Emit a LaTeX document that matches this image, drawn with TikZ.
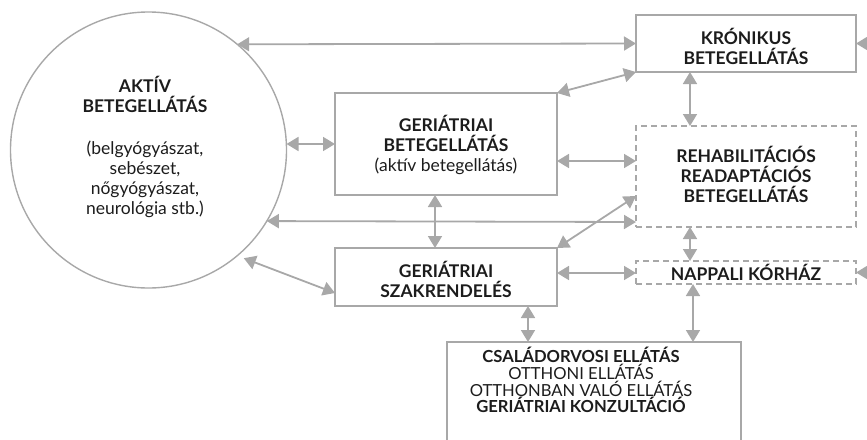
\documentclass[tikz,border=0pt]{standalone}
\usepackage{fontspec}
\setmainfont{Lato}
\usetikzlibrary{arrows.meta}
\definecolor{ln}{HTML}{A8A8A8}
\definecolor{tx}{HTML}{1C1C1C}
\tikzset{
  box/.style={draw=ln, line width=1.6pt, rectangle, inner sep=0pt, outer sep=0pt, text=tx, align=center},
  dbox/.style={box, dash pattern=on 6pt off 4pt},
  arr/.style={ln, line width=1.8pt, {Triangle[length=12pt,width=14pt]}-{Triangle[length=12pt,width=14pt]}},
  sarr/.style={ln, line width=1.8pt, -{Triangle[length=12pt,width=14pt]}},
  lbl/.style={font=\fontsize{17.5}{20}\selectfont, text=tx, align=center, inner sep=0pt}
}
\begin{document}
\begin{tikzpicture}[x=1pt,y=-1pt]
\useasboundingbox (0,0) rectangle (867,439);
% circle
\node[draw=ln, line width=1.4pt, circle, minimum size=276pt, inner sep=0pt, outer sep=0pt] (circ) at (148.5,150) {};
\node[lbl] (circtxt) at (145,147) {\textbf{AKTÍV}\\\textbf{BETEGELLÁTÁS}\\[22pt](belgyógyászat,\\sebészet,\\nőgyógyászat,\\neurológia stb.)};
% boxes
\node[box, minimum width=220pt, minimum height=57pt] (kr) at (746,43.5) {};
\node[lbl] (krtxt) at (746,46) {\textbf{KRÓNIKUS}\\\textbf{BETEGELLÁTÁS}};
\node[dbox, minimum width=220pt, minimum height=101pt] (rehab) at (746,176.5) {};
\node[lbl] (rehabtxt) at (746,174) {\textbf{REHABILITÁCIÓS}\\\textbf{READAPTÁCIÓS}\\\textbf{BETEGELLÁTÁS}};
\node[dbox, minimum width=220pt, minimum height=23pt] (nap) at (746,272.5) {};
\node[lbl] (naptxt) at (746,272.5) {\textbf{NAPPALI KÓRHÁZ}};
\node[box, minimum width=222pt, minimum height=102pt] (gb) at (446,144) {};
\node[lbl] (gbtxt) at (446,145) {\textbf{GERIÁTRIAI}\\\textbf{BETEGELLÁTÁS}\\(aktív betegellátás)};
\node[box, minimum width=222pt, minimum height=58pt] (szak) at (446,277) {};
\node[lbl] (szaktxt) at (446,279) {\textbf{GERIÁTRIAI}\\\textbf{SZAKRENDELÉS}};
\node[box, minimum width=294pt, minimum height=150pt, anchor=north west] (bot) at (447,342) {};
\node[lbl, font=\fontsize{16.6}{16.7}\selectfont] (bottxt) at (581,380) {\textbf{CSALÁDORVOSI ELLÁTÁS}\\OTTHONI ELLÁTÁS\\OTTHONBAN VALÓ ELLÁTÁS\\\textbf{GERIÁTRIAI KONZULTÁCIÓ}};
% off-page tails
\coordinate (rkr) at (885,43.5);
\coordinate (rnap) at (885,272.5);
% connectors
\draw[arr] (circ.50.5) -- (kr.west);
\draw[arr] (gb.west -| circ.east) -- (gb.west);
\draw[arr] (circ.-31.5) -- (rehab.west |- 0,222);
\draw[arr, shorten <=7pt] (circ.-50) -- (szak.west |- 0,293);
\draw[arr] (gb.north east) -- (kr.south west);
\draw[arr] (gb.east |- 0,161) -- (rehab.west |- 0,161);
\draw[arr] (gb.south -| 435,0) -- (szak.north -| 435,0);
\draw[arr] (szak.north east) -- (rehab.west |- 0,196);
\draw[arr] (szak.east |- 0,273) -- (nap.west |- 0,273);
\draw[arr] (kr.south -| 690,0) -- (rehab.north -| 690,0);
\draw[arr] (rehab.south -| 690,0) -- (nap.north -| 690,0);
\draw[arr] (szak.south -| 528,0) -- (bot.north -| 528,0);
\draw[arr] (nap.south -| 693,0) -- (bot.north -| 693,0);
\draw[sarr] (rkr) -- (kr.east);
\draw[sarr] (rnap) -- (nap.east);
\end{tikzpicture}
\end{document}
